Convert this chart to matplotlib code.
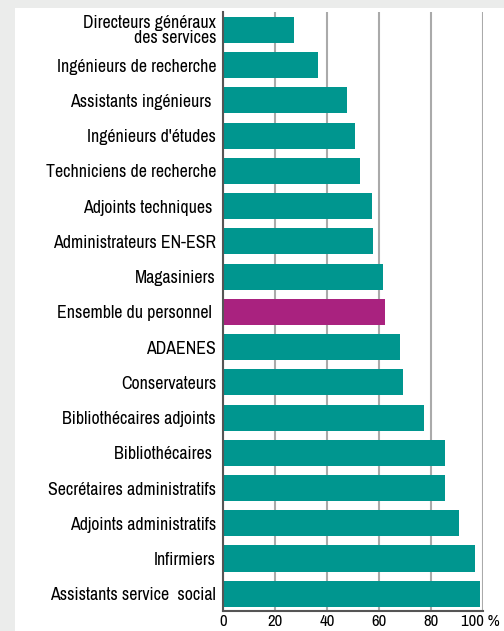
import matplotlib.pyplot as plt
from matplotlib.patches import Rectangle
from matplotlib.transforms import ScaledTranslation
from matplotlib import font_manager

# Données : part des femmes par corps (%)
categories = [
    "Directeurs généraux\ndes services",
    "Ingénieurs de recherche",
    "Assistants ingénieurs ",
    "Ingénieurs d'études",
    "Techniciens de recherche",
    "Adjoints techniques ",
    "Administrateurs EN-ESR",
    "Magasiniers",
    "Ensemble du personnel ",
    "ADAENES",
    "Conservateurs",
    "Bibliothécaires adjoints",
    "Bibliothécaires ",
    "Secrétaires administratifs",
    "Adjoints administratifs",
    "Infirmiers",
    "Assistants service  social",
]
values = [27.3, 36.5, 47.7, 50.8, 52.7, 57.3, 57.7, 61.5, 62.3, 68.0, 69.2,
          77.3, 85.4, 85.4, 90.8, 96.9, 98.8]
highlight = "Ensemble du personnel "
xticks = [0, 20, 40, 60, 80, 100]
xticklabels = ["0", "20", "40", "60", "80", "100 %"]

teal = "#00968f"
magenta = "#a9227f"

# police étroite type Arial Narrow si dispo
names = {f.name for f in font_manager.fontManager.ttflist}
prefs = ["Liberation Sans Narrow", "Arimo Narrow", "Archivo Narrow", "Roboto Condensed",
         "PT Sans Narrow", "Fira Sans Condensed", "IBM Plex Sans Condensed",
         "Encode Sans Condensed", "Liberation Sans"]
fam = [f for f in prefs if f in names][:1] + ["DejaVu Sans"]
plt.rcParams['font.family'] = fam

fig = plt.figure(figsize=(5.04, 6.31), dpi=100, facecolor="#ebeceb")
fig.patches.append(Rectangle((15 / 504, 0), 1, 1 - 8 / 631, transform=fig.transFigure,
                             facecolor="white", edgecolor="none", zorder=-10))

# taille de police calée sur la largeur mesurée dans l'image
renderer = fig.canvas.get_renderer()
def fit_size(s, target_px):
    t = fig.text(0, 0, s, fontsize=10)
    w = t.get_window_extent(renderer).width
    t.remove()
    return 10 * target_px / w

label_fs = fit_size("Techniciens de recherche", 170)
tick_fs = 12

ax = fig.add_axes([223 / 504, 1 - 611 / 631, (483 - 223) / 504, (611 - 12) / 631])
ax.set_facecolor("none")
ax.set_zorder(2)

colors = [magenta if c == highlight else teal for c in categories]
ypos = list(range(len(categories)))
ax.barh(ypos, values, height=0.74, color=colors, zorder=3)

ax.set_xlim(0, 100)
ax.set_ylim(16.49, -0.51)
ax.set_yticks(ypos)
ax.set_yticklabels(categories, fontsize=label_fs, linespacing=0.88)
ax.set_xticks(xticks)
ax.set_xticklabels(xticklabels, fontsize=tick_fs)
ax.tick_params(axis="y", length=0, pad=5)
ax.tick_params(axis="x", length=0, pad=2)

# "100 %" : commence à gauche du trait comme dans l'original
last = ax.get_xticklabels()[-1]
last.set_horizontalalignment("left")
last.set_transform(last.get_transform() + ScaledTranslation(-22 / 100, 0, fig.dpi_scale_trans))

ax.grid(axis="x", color="#aaaaaa", linewidth=1.5, zorder=1)
for s in ["top", "right"]:
    ax.spines[s].set_visible(False)
for s in ["left", "bottom"]:
    ax.spines[s].set_color("#555555")
    ax.spines[s].set_linewidth(1.5)
    ax.spines[s].set_zorder(4)

fig.savefig("out.png", dpi=100, facecolor=fig.get_facecolor())
